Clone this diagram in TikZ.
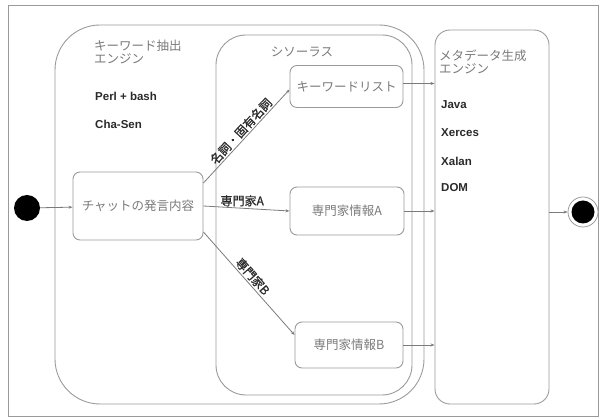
\documentclass[tikz,border=0pt]{standalone}
\usepackage{fontspec}
\setmainfont{Noto Sans CJK JP}
\newfontfamily\jpb{Noto Sans CJK JP}[FakeBold=1.0]
\newfontfamily\latb{Liberation Sans}
\usetikzlibrary{arrows.meta}
\definecolor{boxc}{HTML}{9A9A9A}
\definecolor{txtg}{HTML}{7A7A7A}
\definecolor{txtd}{HTML}{2A2A2A}
\tikzset{
  cont/.style={draw=boxc, line width=0.9pt, rounded corners=#1, inner sep=0pt},
  act/.style={draw=boxc, line width=0.9pt, rounded corners=7pt, inner sep=0pt, text=txtg, font=\fontsize{12.5}{14}\selectfont},
  ttl/.style={anchor=north west, inner sep=0pt, text=txtg, font=\fontsize{12.5}{15}\selectfont, align=left},
  lat/.style={anchor=west, inner sep=0pt, text=txtd, font=\latb\bfseries\fontsize{11.5}{13}\selectfont},
  lbl/.style={inner sep=1.5pt, text=txtd, font=\jpb\fontsize{12}{14}\selectfont},
  arr/.style={draw=boxc!80!black, line width=0.8pt, -{Stealth[length=4pt,width=3pt]}},
}
\begin{document}
\begin{tikzpicture}[x=1pt,y=-1pt]
\useasboundingbox (0,0) rectangle (606,419);
\node[draw=boxc, line width=0.9pt, minimum width=590pt, minimum height=411pt, inner sep=0pt] (frame) at (303,210.5) {};
% containers
\node[cont=45pt, minimum width=369pt, minimum height=379pt] (eng) at (239.5,214.5) {};
\node[cont=30pt, minimum width=196pt, minimum height=360pt] (thes) at (314,215) {};
\node[cont=15pt, minimum width=114pt, minimum height=374pt] (meta) at (492,217) {};
% titles
\node[ttl] (engt) at (94,40) {キーワード抽出\\[-2pt]エンジン};
\node[lat] (perl) at (95,96) {Perl + bash};
\node[lat] (chas) at (95,124) {Cha-Sen};
\node[ttl, anchor=center] (thest) at (302,52) {シソーラス};
\node[ttl] (metat) at (439,50) {メタデータ生成\\[-2pt]エンジン};
\node[lat] (java) at (441,105) {Java};
\node[lat] (xer) at (441,133) {Xerces};
\node[lat] (xal) at (441,161) {Xalan};
\node[lat] (dom) at (441,188) {DOM};
% start / end
\node[circle, fill=black, minimum size=26pt, inner sep=0pt] (start) at (27,208) {};
\node[circle, draw=boxc, line width=0.8pt, minimum size=30pt, inner sep=0pt] (endo) at (583,212) {};
\node[circle, fill=black, minimum size=23pt, inner sep=0pt] (endi) at (583,212) {};
% activities
\node[act, minimum width=130pt, minimum height=68pt] (chat) at (138,206) {チャットの発言内容};
\node[act, minimum width=113pt, minimum height=42pt] (kw) at (346.5,86.5) {キーワードリスト};
\node[act, minimum width=114pt, minimum height=48pt] (expa) at (347,211) {専門家情報A};
\node[act, minimum width=108pt, minimum height=46pt] (expb) at (349,345) {専門家情報B};
% edges
\draw[arr] (start) -- (chat);
\draw[arr] ([yshift=23pt]chat.east) -- node[lbl, sloped, above, pos=0.5] {名詞・固有名詞} ([yshift=-3pt]kw.west);
\draw[arr] (chat.east) -- node[lbl, above, pos=0.45] {専門家A} (expa.west);
\draw[arr] ([yshift=-26pt]chat.east) -- node[lbl, sloped, above, pos=0.48] {専門家B} ([yshift=10pt]expb.west);
\draw[arr] ([yshift=3pt]kw.east) -- ([yshift=3pt]kw.east -| meta.west);
\draw[arr] (expa.east) -- (expa.east -| meta.west);
\draw[arr] (expb.east) -- (expb.east -| meta.west);
\draw[arr] (meta.east |- endo.west) -- (endo.west);
\end{tikzpicture}
\end{document}
